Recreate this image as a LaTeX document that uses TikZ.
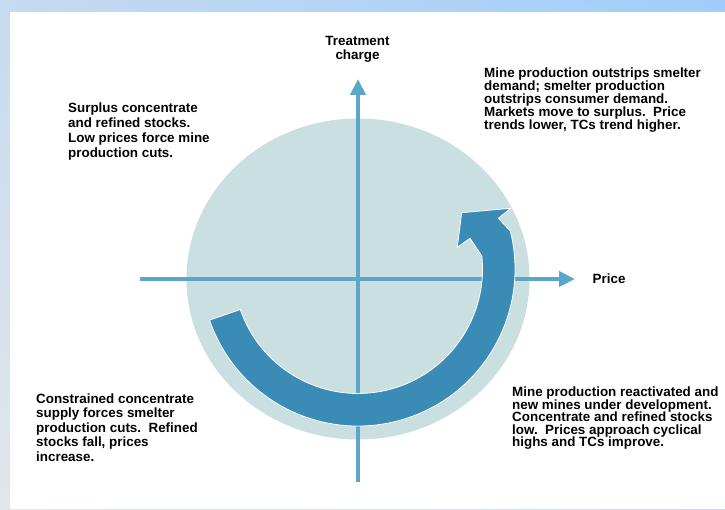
\documentclass[tikz,border=0pt]{standalone}
\usepackage{fontspec}
\setmainfont{Liberation Sans}
\usepackage{tikz}
\usetikzlibrary{arrows.meta}
\usetikzlibrary{shadings}
\usetikzlibrary{positioning}
\definecolor{frametl}{RGB}{198, 218, 240}
\definecolor{frametr}{RGB}{160, 205, 250}
\definecolor{framebl}{RGB}{225, 230, 235}
\definecolor{framebr}{RGB}{200, 222, 242}
\definecolor{powder}{RGB}{201, 223, 224}
\definecolor{skyline}{RGB}{91, 166, 201}
\definecolor{belize}{RGB}{58, 139, 182}

\begin{document}
\begin{tikzpicture}[x=1pt, y=1pt,
    axis/.style={line width=4pt, color=skyline, -{Triangle[width=15pt, length=16pt]}},
    note/.style={align=left, anchor=north west, inner sep=0pt, font=\bfseries\fontsize{13.4}{13}\selectfont}]
            % slide frame
            \shade[upper left=frametl, upper right=frametr,
                   lower left=framebl, lower right=framebr]             (  0.0,  0.0) rectangle (725.0,509.0);
            \fill[white]                                                ( 10.0,  0.0) rectangle (725.0,497.0);
            \useasboundingbox                                           (  0.0,  0.0) rectangle (725.0,509.0);
            % market disc and axes
            \fill[powder]                                               (358.0,230.0) ellipse   (171.5 and 160.5);
            \coordinate (tcfoot)   at (358.0, 27.0);
            \coordinate (tctip)    at (358.0,430.0);
            \coordinate (pricefoot)at (140.0,230.0);
            \coordinate (pricetip) at (575.0,230.0);
            \draw[axis] (tcfoot) -- (tctip);
            \draw[axis] (pricefoot) -- (pricetip);
            % cycle arrow
            \begin{scope}[shift={(358.0,240.0)}]
                \filldraw[fill=belize, draw=white, line width=0.8pt]
                    (199:157) arc[start angle=199, end angle=374, radius=157]
                    -- (140.3, 50.7) -- (152.7, 60.7) -- (103.7, 56.3)
                    -- ( 99.3, 21.7) -- (112.0, 30.7) -- (6:124.5)
                    arc[start angle=6, end angle=-161, radius=124.5] -- cycle;
            \end{scope}
            % labels
            \node[align=center, anchor=north, inner sep=0pt, font=\bfseries\fontsize{13.4}{14}\selectfont]
                 (tclabel) at (357.5,473.0) {Treatment\\charge};
            \node[anchor=west, inner sep=0pt, font=\bfseries\fontsize{13.4}{13}\selectfont]
                 (pricelabel) at (592.5,230.5) {Price};
            \node[note, font=\bfseries\fontsize{13.4}{15}\selectfont] (surplus) at ( 68.0,406.5)
                 {Surplus concentrate\\and refined stocks.\\Low prices force mine\\production cuts.};
            \node[note, font=\bfseries\fontsize{13.4}{13}\selectfont] (outstrip) at (484.0,441.5)
                 {Mine production outstrips smelter\\demand; smelter production\\outstrips consumer demand.\\Markets move to surplus.\ \ Price\\trends lower, TCs trend higher.};
            \node[note, font=\bfseries\fontsize{13.4}{14.5}\selectfont] (constrain) at ( 36.0,115.5)
                 {Constrained concentrate\\supply forces smelter\\production cuts.\ \ Refined\\stocks fall, prices\\increase.};
            \node[note, font=\bfseries\fontsize{13.4}{12.6}\selectfont] (reactivate) at (512.0,122.5)
                 {Mine production reactivated and\\new mines under development.\\Concentrate and refined stocks\\low.\ \ Prices approach cyclical\\highs and TCs improve.};
\end{tikzpicture}
\end{document}
